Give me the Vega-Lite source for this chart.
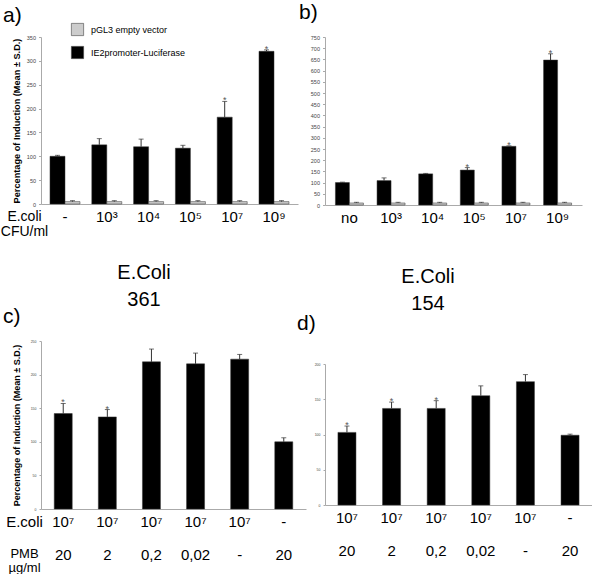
{
  "$schema": "https://vega.github.io/schema/vega-lite/v6.json",
  "padding": {"left": 0, "top": 2, "right": 0, "bottom": 0},
  "background": "white",
  "config": {
    "view": {"stroke": null},
    "font": "Liberation Sans",
    "axis": {"grid": false, "labelOverlap": false},
    "axisY": {"labelOverlap": false, "tickCount": 20, "labelColor": "#444", "tickColor": "#aaa", "domainColor": "#aaa", "labelPadding": 3, "titleFontWeight": "bold", "titleX": -25, "titleBaseline": "middle", "titleColor": "#000"},
    "title": {"font": "Liberation Sans", "color": "#000"}
  },
  "datasets": {
    "a": [
      {"cat": "-", "series": "IE2promoter-Luciferase", "mean": 100, "upper": 102, "s": ""},
      {"cat": "10³", "series": "IE2promoter-Luciferase", "mean": 124, "upper": 137, "s": ""},
      {"cat": "10⁴", "series": "IE2promoter-Luciferase", "mean": 120, "upper": 136, "s": ""},
      {"cat": "10⁵", "series": "IE2promoter-Luciferase", "mean": 117, "upper": 123, "s": ""},
      {"cat": "10⁷", "series": "IE2promoter-Luciferase", "mean": 182, "upper": 215, "s": "*"},
      {"cat": "10⁹", "series": "IE2promoter-Luciferase", "mean": 320, "upper": 323, "s": "*"},
      {"cat": "-", "series": "pGL3 empty vector", "mean": 5, "upper": 7, "s": ""},
      {"cat": "10³", "series": "pGL3 empty vector", "mean": 5, "upper": 7, "s": ""},
      {"cat": "10⁴", "series": "pGL3 empty vector", "mean": 5, "upper": 7, "s": ""},
      {"cat": "10⁵", "series": "pGL3 empty vector", "mean": 5, "upper": 7, "s": ""},
      {"cat": "10⁷", "series": "pGL3 empty vector", "mean": 5, "upper": 7, "s": ""},
      {"cat": "10⁹", "series": "pGL3 empty vector", "mean": 5, "upper": 7, "s": ""}
    ],
    "b": [
      {"cat": "no", "series": "IE2promoter-Luciferase", "mean": 100, "upper": 102, "s": ""},
      {"cat": "10³", "series": "IE2promoter-Luciferase", "mean": 109, "upper": 121, "s": ""},
      {"cat": "10⁴", "series": "IE2promoter-Luciferase", "mean": 139, "upper": 141, "s": ""},
      {"cat": "10⁵", "series": "IE2promoter-Luciferase", "mean": 156, "upper": 167, "s": "*"},
      {"cat": "10⁷", "series": "IE2promoter-Luciferase", "mean": 262, "upper": 264, "s": "*"},
      {"cat": "10⁹", "series": "IE2promoter-Luciferase", "mean": 647, "upper": 675, "s": "*"},
      {"cat": "no", "series": "pGL3 empty vector", "mean": 9, "upper": 12, "s": ""},
      {"cat": "10³", "series": "pGL3 empty vector", "mean": 9, "upper": 12, "s": ""},
      {"cat": "10⁴", "series": "pGL3 empty vector", "mean": 9, "upper": 12, "s": ""},
      {"cat": "10⁵", "series": "pGL3 empty vector", "mean": 9, "upper": 12, "s": ""},
      {"cat": "10⁷", "series": "pGL3 empty vector", "mean": 9, "upper": 12, "s": ""},
      {"cat": "10⁹", "series": "pGL3 empty vector", "mean": 9, "upper": 12, "s": ""}
    ],
    "c": [
      {"cat": "10⁷|20", "mean": 142, "upper": 157, "s": "*"},
      {"cat": "10⁷|2", "mean": 137, "upper": 148, "s": "*"},
      {"cat": "10⁷|0,2", "mean": 219, "upper": 238, "s": ""},
      {"cat": "10⁷|0,02", "mean": 216, "upper": 232, "s": ""},
      {"cat": "10⁷|-", "mean": 223, "upper": 230, "s": ""},
      {"cat": "-|20", "mean": 100, "upper": 106, "s": ""}
    ],
    "d": [
      {"cat": "10⁷|20", "mean": 103, "upper": 112, "s": "*"},
      {"cat": "10⁷|2", "mean": 137, "upper": 146, "s": "*"},
      {"cat": "10⁷|0,2", "mean": 137, "upper": 148, "s": "*"},
      {"cat": "10⁷|0,02", "mean": 155, "upper": 169, "s": ""},
      {"cat": "10⁷|-", "mean": 175, "upper": 185, "s": ""},
      {"cat": "-|20", "mean": 99, "upper": 100.5, "s": ""}
    ]
  },
  "resolve": {"scale": {"color": "independent", "xOffset": "independent"}},
  "spacing": -9,
  "hconcat": [
    {
      "spacing": 24,
      "resolve": {"scale": {"color": "independent", "xOffset": "independent"}},
      "vconcat": [
        {
          "width": 257,
          "height": 167,
          "title": {"text": "a)", "anchor": "start", "frame": "group", "dx": -38, "fontSize": 21, "fontWeight": "normal", "offset": -3},
          "data": {"name": "a"},
          "encoding": {
            "x": {
              "field": "cat", "type": "nominal", "sort": null,
              "scale": {"paddingInner": 0.282, "paddingOuter": 0.215},
              "axis": {"title": ["E.coli", "CFU/ml"], "titleX": -17, "titleY": 5, "titleAlign": "center", "titleBaseline": "top", "titleFontSize": 14, "titleFontWeight": "normal", "titleLineHeight": 15.5, "labelFontSize": 15, "labelAngle": 0, "labelPadding": 5, "ticks": false, "tickSize": 0, "domainColor": "#aaa", "labelColor": "#000", "titleColor": "#000"}
            },
            "xOffset": {"field": "series", "type": "nominal", "scale": {"domain": ["IE2promoter-Luciferase", "pGL3 empty vector"], "paddingInner": 0, "paddingOuter": 0}}
          },
          "layer": [
            {
              "mark": {"type": "bar", "stroke": "#333", "strokeWidth": 0.5},
              "encoding": {
                "y": {"field": "mean", "type": "quantitative", "title": "Percentage of Induction (Mean ± S.D.)",
                  "scale": {"domain": [0, 350], "nice": false},
                  "axis": {"values": [0, 50, 100, 150, 200, 250, 300, 350], "tickCount": 20, "labelOverlap": false, "labelFontSize": 5.5, "tickSize": 2.5, "titleFontSize": 9.2}},
                "color": {"field": "series", "type": "nominal",
                  "scale": {"domain": ["pGL3 empty vector", "IE2promoter-Luciferase"], "range": ["#cccccc", "#000000"]},
                  "legend": {"orient": "none", "legendX": 30, "legendY": -14, "title": null, "symbolType": "square", "symbolSize": 150, "symbolStrokeColor": "#444", "symbolStrokeWidth": 0.6, "labelFontSize": 9, "labelOffset": 7, "rowPadding": 8, "padding": 0, "labelColor": "#000"}}
              }
            },
            {
              "mark": {"type": "rule", "color": "#333", "strokeWidth": 1},
              "encoding": {"y": {"field": "mean", "type": "quantitative", "title": "Percentage of Induction (Mean ± S.D.)", "axis": {"values": [0, 50, 100, 150, 200, 250, 300, 350], "tickCount": 20, "labelOverlap": false, "labelFontSize": 5.5, "tickSize": 2.5, "titleFontSize": 9.2}}, "y2": {"field": "upper"}}
            },
            {
              "mark": {"type": "tick", "color": "#333", "size": 5, "thickness": 1, "orient": "horizontal"},
              "encoding": {"y": {"field": "upper", "type": "quantitative", "title": "Percentage of Induction (Mean ± S.D.)", "axis": {"values": [0, 50, 100, 150, 200, 250, 300, 350], "tickCount": 20, "labelOverlap": false, "labelFontSize": 5.5, "tickSize": 2.5, "titleFontSize": 9.2}}}
            },
            {
              "mark": {"type": "text", "color": "#555", "fontSize": 9, "baseline": "alphabetic", "dy": 2},
              "encoding": {"y": {"field": "upper", "type": "quantitative", "title": "Percentage of Induction (Mean ± S.D.)", "axis": {"values": [0, 50, 100, 150, 200, 250, 300, 350], "tickCount": 20, "labelOverlap": false, "labelFontSize": 5.5, "tickSize": 2.5, "titleFontSize": 9.2}}, "text": {"field": "s"}}
            }
          ]
        },
        {
          "title": {"text": ["E.Coli", "361"], "anchor": "start", "frame": "group", "align": "center", "dx": 103, "fontSize": 20, "fontWeight": "normal", "lineHeight": 27, "offset": -4},
          "vconcat": [
            {
              "width": 265,
              "height": 168,
              "title": {"text": "c)", "anchor": "start", "frame": "group", "dx": -38, "fontSize": 21, "fontWeight": "normal", "offset": 12},
              "data": {"name": "c"},
              "resolve": {"scale": {"x": "independent"}, "axis": {"x": "independent"}},
              "layer": [
                {
                  "mark": {"type": "bar", "color": "#000", "stroke": "#333", "strokeWidth": 0.5},
                  "encoding": {
                    "x": {"field": "cat", "type": "nominal", "sort": null, "scale": {"paddingInner": 0.592, "paddingOuter": 0.3},
                      "axis": {"orient": "bottom", "title": "E.coli", "titleX": -17, "titleY": 5, "titleAlign": "center", "titleBaseline": "top", "titleFontSize": 15, "titleFontWeight": "normal", "labelFontSize": 15, "labelAngle": 0, "labelPadding": 5, "labelExpr": "split(datum.label, '|')[0]", "ticks": false, "tickSize": 0, "domainColor": "#aaa", "labelColor": "#000", "titleColor": "#000"}},
                    "y": {"field": "mean", "type": "quantitative", "title": "Percentage of Induction (Mean ± S.D.)",
                      "scale": {"domain": [0, 250], "nice": false},
                      "axis": {"values": [0, 50, 100, 150, 200, 250], "tickCount": 20, "labelOverlap": false, "labelFontSize": 3.5, "tickSize": 2, "titleFontSize": 9}}
                  }
                },
                {
                  "mark": {"type": "rule", "color": "#333", "strokeWidth": 1},
                  "encoding": {
                    "x": {"field": "cat", "type": "nominal", "sort": null, "scale": {"paddingInner": 0.592, "paddingOuter": 0.3},
                      "axis": {"orient": "bottom", "offset": 33, "title": ["PMB", "µg/ml"], "titleX": -17, "titleY": 5, "titleAlign": "center", "titleBaseline": "top", "titleFontSize": 13, "titleFontWeight": "normal", "titleLineHeight": 14, "labelFontSize": 15, "labelAngle": 0, "labelPadding": 5, "labelExpr": "split(datum.label, '|')[1]", "ticks": false, "tickSize": 0, "domain": false, "labelColor": "#000", "titleColor": "#000"}},
                    "y": {"field": "mean", "type": "quantitative", "title": "Percentage of Induction (Mean ± S.D.)", "axis": {"values": [0, 50, 100, 150, 200, 250], "tickCount": 20, "labelOverlap": false, "labelFontSize": 3.5, "tickSize": 2, "titleFontSize": 9}},
                    "y2": {"field": "upper"}
                  }
                },
                {
                  "mark": {"type": "tick", "color": "#333", "size": 5, "thickness": 1, "orient": "horizontal"},
                  "encoding": {
                    "x": {"field": "cat", "type": "nominal", "sort": null, "scale": {"paddingInner": 0.592, "paddingOuter": 0.3}, "axis": null},
                    "y": {"field": "upper", "type": "quantitative", "title": "Percentage of Induction (Mean ± S.D.)", "axis": {"values": [0, 50, 100, 150, 200, 250], "tickCount": 20, "labelOverlap": false, "labelFontSize": 3.5, "tickSize": 2, "titleFontSize": 9}}
                  }
                },
                {
                  "mark": {"type": "text", "color": "#555", "fontSize": 9, "baseline": "alphabetic", "dy": 2},
                  "encoding": {
                    "x": {"field": "cat", "type": "nominal", "sort": null, "scale": {"paddingInner": 0.592, "paddingOuter": 0.3}, "axis": null},
                    "y": {"field": "upper", "type": "quantitative", "title": "Percentage of Induction (Mean ± S.D.)", "axis": {"values": [0, 50, 100, 150, 200, 250], "tickCount": 20, "labelOverlap": false, "labelFontSize": 3.5, "tickSize": 2, "titleFontSize": 9}},
                    "text": {"field": "s"}
                  }
                }
              ]
            }
          ]
        }
      ]
    },
    {
      "spacing": 42,
      "resolve": {"scale": {"color": "independent", "xOffset": "independent"}},
      "vconcat": [
        {
          "width": 257,
          "height": 168,
          "title": {"text": "b)", "anchor": "start", "frame": "group", "dx": -26, "fontSize": 21, "fontWeight": "normal", "offset": 12},
          "data": {"name": "b"},
          "encoding": {
            "x": {
              "field": "cat", "type": "nominal", "sort": null,
              "scale": {"paddingInner": 0.327, "paddingOuter": 0.25},
              "axis": {"title": null, "labelFontSize": 15, "labelAngle": 0, "labelPadding": 5, "ticks": false, "tickSize": 0, "domainColor": "#aaa", "labelColor": "#000"}
            },
            "xOffset": {"field": "series", "type": "nominal", "scale": {"domain": ["IE2promoter-Luciferase", "pGL3 empty vector"], "paddingInner": 0, "paddingOuter": 0}}
          },
          "layer": [
            {
              "mark": {"type": "bar", "stroke": "#333", "strokeWidth": 0.5},
              "encoding": {
                "y": {"field": "mean", "type": "quantitative", "title": null,
                  "scale": {"domain": [0, 750], "nice": false},
                  "axis": {"title": null, "values": [0, 50, 100, 150, 200, 250, 300, 350, 400, 450, 500, 550, 600, 650, 700, 750], "tickCount": 20, "labelOverlap": false, "labelFontSize": 5.5, "tickSize": 2.5}},
                "color": {"field": "series", "type": "nominal",
                  "scale": {"domain": ["pGL3 empty vector", "IE2promoter-Luciferase"], "range": ["#cccccc", "#000000"]},
                  "legend": null}
              }
            },
            {
              "mark": {"type": "rule", "color": "#333", "strokeWidth": 1},
              "encoding": {"y": {"field": "mean", "type": "quantitative", "title": null, "axis": {"title": null, "values": [0, 50, 100, 150, 200, 250, 300, 350, 400, 450, 500, 550, 600, 650, 700, 750], "tickCount": 20, "labelOverlap": false, "labelFontSize": 5.5, "tickSize": 2.5}}, "y2": {"field": "upper"}}
            },
            {
              "mark": {"type": "tick", "color": "#333", "size": 5, "thickness": 1, "orient": "horizontal"},
              "encoding": {"y": {"field": "upper", "type": "quantitative", "title": null, "axis": {"title": null, "values": [0, 50, 100, 150, 200, 250, 300, 350, 400, 450, 500, 550, 600, 650, 700, 750], "tickCount": 20, "labelOverlap": false, "labelFontSize": 5.5, "tickSize": 2.5}}}
            },
            {
              "mark": {"type": "text", "color": "#555", "fontSize": 9, "baseline": "alphabetic", "dy": 2},
              "encoding": {"y": {"field": "upper", "type": "quantitative", "title": null, "axis": {"title": null, "values": [0, 50, 100, 150, 200, 250, 300, 350, 400, 450, 500, 550, 600, 650, 700, 750], "tickCount": 20, "labelOverlap": false, "labelFontSize": 5.5, "tickSize": 2.5}}, "text": {"field": "s"}}
            }
          ]
        },
        {
          "title": {"text": ["E.Coli", "154"], "anchor": "start", "frame": "group", "align": "center", "dx": 103, "fontSize": 20, "fontWeight": "normal", "lineHeight": 27, "offset": -1},
          "vconcat": [
            {
              "width": 267,
              "height": 141,
              "title": {"text": "d)", "anchor": "start", "frame": "group", "dx": -28, "fontSize": 21, "fontWeight": "normal", "offset": 28},
              "data": {"name": "d"},
              "encoding": {
                "x": {
                  "field": "cat", "type": "nominal", "sort": null,
                  "scale": {"paddingInner": 0.596, "paddingOuter": 0.29},
                  "axis": {"title": null, "labelFontSize": 15, "labelAngle": 0, "labelPadding": 5, "labelLineHeight": 33, "labelExpr": "split(datum.label, '|')", "ticks": false, "tickSize": 0, "domainColor": "#aaa", "labelColor": "#000"}
                }
              },
              "layer": [
                {
                  "mark": {"type": "bar", "color": "#000", "stroke": "#333", "strokeWidth": 0.5},
                  "encoding": {
                    "y": {"field": "mean", "type": "quantitative", "title": null,
                      "scale": {"domain": [0, 200], "nice": false},
                      "axis": {"title": null, "values": [0, 50, 100, 150, 200], "tickCount": 20, "labelOverlap": false, "labelFontSize": 3.5, "tickSize": 2}}
                  }
                },
                {
                  "mark": {"type": "rule", "color": "#333", "strokeWidth": 1},
                  "encoding": {"y": {"field": "mean", "type": "quantitative", "title": null, "axis": {"title": null, "values": [0, 50, 100, 150, 200], "tickCount": 20, "labelOverlap": false, "labelFontSize": 3.5, "tickSize": 2}}, "y2": {"field": "upper"}}
                },
                {
                  "mark": {"type": "tick", "color": "#333", "size": 5, "thickness": 1, "orient": "horizontal"},
                  "encoding": {"y": {"field": "upper", "type": "quantitative", "title": null, "axis": {"title": null, "values": [0, 50, 100, 150, 200], "tickCount": 20, "labelOverlap": false, "labelFontSize": 3.5, "tickSize": 2}}}
                },
                {
                  "mark": {"type": "text", "color": "#555", "fontSize": 9, "baseline": "alphabetic", "dy": 2},
                  "encoding": {"y": {"field": "upper", "type": "quantitative", "title": null, "axis": {"title": null, "values": [0, 50, 100, 150, 200], "tickCount": 20, "labelOverlap": false, "labelFontSize": 3.5, "tickSize": 2}}, "text": {"field": "s"}}
                }
              ]
            }
          ]
        }
      ]
    }
  ]
}
